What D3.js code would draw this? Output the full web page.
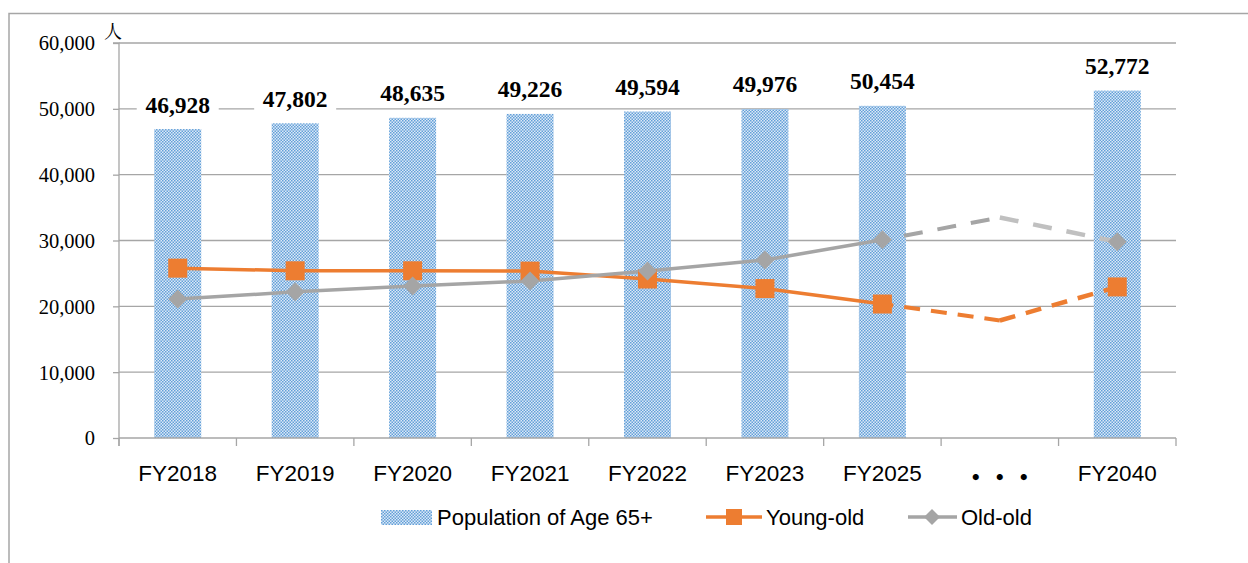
<!DOCTYPE html>
<html><head><meta charset="utf-8">
<script src="https://cdn.jsdelivr.net/npm/d3@7"></script>
<style>body{margin:0;background:#fff}svg{display:block}</style>
</head><body>
<svg id="chart" width="1248" height="563"></svg>
<script>
const categories = ["FY2018","FY2019","FY2020","FY2021","FY2022","FY2023","FY2025","・・・","FY2040"];
const population = [46928,47802,48635,49226,49594,49976,50454,null,52772];
const youngOld = [25800,25400,25400,25350,24150,22700,20350,17850,22950];
const oldOld = [21100,22200,23100,23850,25350,27050,30100,33500,29800];
const yTicks = [0,10000,20000,30000,40000,50000,60000];
const seriesNames = ["Population of Age 65+","Young-old","Old-old"];
const unitLabel = "人";
const solidEnd = 6; // index of last solid point (FY2025)

const svg = d3.select("#chart");
const L = 119, R = 1176, T = 43, B = 438;
const orange = "#ed7d31", gray = "#a5a5a5", gray2 = "#c0c0c0", gridC = "#a6a6a6";

const defs = svg.append("defs");
const pat = defs.append("pattern").attr("id","chk").attr("patternUnits","userSpaceOnUse")
  .attr("width",3).attr("height",3);
pat.append("rect").attr("width",3).attr("height",3).attr("fill","#dde9f7");
pat.append("rect").attr("x",0).attr("y",0).attr("width",1.5).attr("height",1.5).attr("fill","#62a0d8");
pat.append("rect").attr("x",1.5).attr("y",1.5).attr("width",1.5).attr("height",1.5).attr("fill","#62a0d8");

// outer frame
svg.append("path").attr("d","M9,563 V13.5 H1248").attr("fill","none").attr("stroke","#a6a6a6").attr("stroke-width",1.5);

const x = d3.scaleBand().domain(categories).range([L,R]).paddingInner(0.6).paddingOuter(0.3);
const y = d3.scaleLinear().domain([0,60000]).range([B,T]);
const step = x.step();
const cx = c => x(c) + x.bandwidth()/2;

// gridlines
svg.append("g").selectAll("line").data(yTicks.filter(t=>t>0)).join("line")
  .attr("x1",L).attr("x2",R).attr("y1",d=>y(d)).attr("y2",d=>y(d))
  .attr("stroke",gridC).attr("stroke-width",1.3);

// y axis
const yAxis = svg.append("g").attr("transform",`translate(${L},0)`)
  .call(d3.axisLeft(y).tickValues(yTicks).tickFormat(d3.format(",")).tickSize(6).tickPadding(18));
yAxis.attr("font-family","'Liberation Serif','Times New Roman',serif").attr("font-size",20.5);
yAxis.select(".domain").attr("stroke",gridC).attr("stroke-width",1.3).attr("d",`M-6,${T}H0V${B+8}`);
yAxis.selectAll(".tick line").attr("stroke",gridC).attr("stroke-width",1.3);
yAxis.selectAll(".tick text").style("font-family","'Liberation Serif','Times New Roman',serif").style("font-size","20.5px").attr("fill","#000").attr("dy","0.34em");

svg.append("text").attr("x",104).attr("y",38).attr("font-family","'Noto Serif CJK JP','Noto Sans CJK JP',serif").attr("font-size",18).text(unitLabel);

// bars
svg.append("g").selectAll("rect").data(categories.map((c,i)=>({c,v:population[i]})).filter(d=>d.v!=null)).join("rect")
  .attr("x",d=>x(d.c)).attr("width",x.bandwidth()).attr("y",d=>y(d.v)).attr("height",d=>B-y(d.v))
  .attr("fill","url(#chk)");

// x axis
svg.append("line").attr("x1",L).attr("x2",R).attr("y1",B).attr("y2",B).attr("stroke",gridC).attr("stroke-width",1.3);
svg.append("g").selectAll("line").data(d3.range(categories.length+1)).join("line")
  .attr("x1",k=>L+k*step).attr("x2",k=>L+k*step).attr("y1",B).attr("y2",B+8)
  .attr("stroke",gridC).attr("stroke-width",1.3);
svg.append("g").selectAll("text").data(categories).join("text")
  .attr("x",d=>cx(d)).attr("y",481).attr("text-anchor","middle")
  .attr("font-family", d=> d==="・・・" ? "'Noto Sans CJK JP',sans-serif" : "'Liberation Sans',Arial,sans-serif")
  .attr("font-size", d=> d==="・・・" ? 24 : 22.5)
  .attr("font-weight", d=> d==="・・・" ? "bold" : "normal")
  .attr("dy", d=> d==="・・・" ? 5 : 0)
  .text(d=>d);

// data labels
const lab = svg.append("g").selectAll("g").data(categories.map((c,i)=>({c,v:population[i]})).filter(d=>d.v!=null)).join("g");
lab.append("rect").attr("x",d=>cx(d.c)-41).attr("width",82).attr("y",d=>y(d.v)-36).attr("height",26).attr("fill","#fff");
lab.append("text").attr("x",d=>cx(d.c)).attr("y",d=>y(d.v)-16.5).attr("text-anchor","middle")
  .attr("font-family","'Liberation Serif',serif").attr("font-weight","bold").attr("font-size",23.5)
  .text(d=>d3.format(",")(d.v));

// lines
const line = d3.line().x(d=>cx(d.c)).y(d=>y(d.v));
function drawSeries(vals, color, dashColor2, dash){
  const pts = categories.map((c,i)=>({c,v:vals[i],i}));
  svg.append("path").datum(pts.slice(0,solidEnd+1)).attr("d",line).attr("fill","none")
    .attr("stroke",color).attr("stroke-width",3.5).attr("stroke-linejoin","round");
  svg.append("path").datum(pts.slice(solidEnd,solidEnd+2)).attr("d",line).attr("fill","none")
    .attr("stroke",color).attr("stroke-width",4).attr("stroke-dasharray",dash).attr("stroke-dashoffset",-22);
  svg.append("path").datum(pts.slice(solidEnd+1)).attr("d",line).attr("fill","none")
    .attr("stroke",dashColor2).attr("stroke-width",4.5).attr("stroke-dasharray",dash);
  return pts.filter(p=>p.c!=="・・・");
}
const yo = drawSeries(youngOld, orange, orange, "16,11");
const oo = drawSeries(oldOld, gray, gray2, "19,15");

svg.append("g").selectAll("rect").data(yo).join("rect")
  .attr("x",d=>cx(d.c)-9.5).attr("y",d=>y(d.v)-9.5).attr("width",19).attr("height",19).attr("fill",orange);
svg.append("g").selectAll("path").data(oo).join("path")
  .attr("d",d=>{const X=cx(d.c),Y=y(d.v);return `M${X},${Y-9.5}L${X+9.5},${Y}L${X},${Y+9.5}L${X-9.5},${Y}Z`;})
  .attr("fill",gray);

// legend
const lg = svg.append("g");
const ly = 517;
lg.append("rect").attr("x",381).attr("y",510).attr("width",51).attr("height",15).attr("fill","url(#chk)");
lg.append("text").attr("x",437).attr("y",ly).attr("dy","0.35em").attr("font-family","'Liberation Sans',Arial,sans-serif").attr("font-size",22).text(seriesNames[0]);
lg.append("line").attr("x1",706).attr("x2",762).attr("y1",ly).attr("y2",ly).attr("stroke",orange).attr("stroke-width",3.5);
lg.append("rect").attr("x",734-8).attr("y",ly-8).attr("width",16).attr("height",16).attr("fill",orange);
lg.append("text").attr("x",766).attr("y",ly).attr("dy","0.35em").attr("font-family","'Liberation Sans',Arial,sans-serif").attr("font-size",22).text(seriesNames[1]);
lg.append("line").attr("x1",908).attr("x2",957).attr("y1",ly).attr("y2",ly).attr("stroke",gray).attr("stroke-width",3.5);
lg.append("path").attr("d",`M932,${ly-8}L940,${ly}L932,${ly+8}L924,${ly}Z`).attr("fill",gray);
lg.append("text").attr("x",961).attr("y",ly).attr("dy","0.35em").attr("font-family","'Liberation Sans',Arial,sans-serif").attr("font-size",22).text(seriesNames[2]);
</script>
</body></html>
